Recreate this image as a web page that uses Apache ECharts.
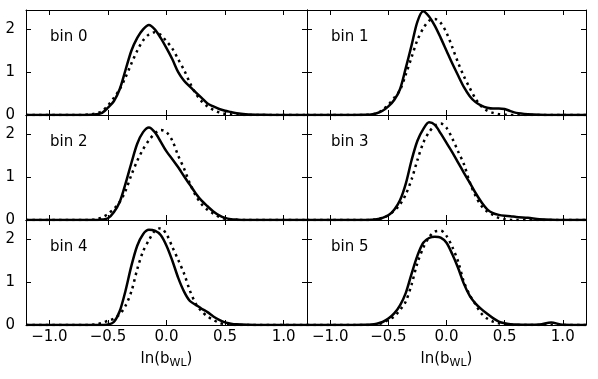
<!DOCTYPE html>
<html>
<head>
<meta charset="utf-8">
<script src="https://cdn.jsdelivr.net/npm/echarts@6/dist/echarts.min.js"></script>
<style>
    html, body { margin: 0; padding: 0; background: #fff; }
    .box { width: 598px; height: 379px; }
</style>
</head>
<body>
<div class="box"></div>
<script>
// x positions of ln(b_WL) where the curves were read
var xs = [-1.2, -0.8, -0.7, -0.65, -0.6, -0.55, -0.5, -0.45, -0.4, -0.35, -0.3, -0.25, -0.2, -0.15, -0.1, -0.05,
    0, 0.05, 0.1, 0.15, 0.2, 0.25, 0.3, 0.35, 0.4, 0.45, 0.5, 0.55, 0.6, 0.7, 0.8, 0.9, 1.0, 1.2]

// solid curves, bin 0..5
var solid0 = [0, 0, 0, 0.005, 0.015, 0.05, 0.17, 0.32, 0.6, 1.05, 1.5, 1.8, 2.0, 2.1, 2.0, 1.8, 1.56, 1.3, 1.0, 0.8, 0.66, 0.53, 0.4, 0.27, 0.2, 0.14, 0.1, 0.07, 0.04, 0.01, 0.005, 0, 0, 0]
var solid1 = [0, 0, 0.003, 0.01, 0.04, 0.1, 0.2, 0.35, 0.6, 1.1, 1.63, 2.18, 2.42, 2.3, 2.08, 1.8, 1.5, 1.2, 0.92, 0.65, 0.44, 0.3, 0.22, 0.17, 0.15, 0.15, 0.14, 0.09, 0.05, 0.02, 0.005, 0, 0, 0]
var solid2 = [0, 0, 0, 0, 0.002, 0.01, 0.04, 0.18, 0.42, 0.85, 1.33, 1.78, 2.05, 2.16, 2.05, 1.83, 1.6, 1.42, 1.23, 1.02, 0.82, 0.62, 0.45, 0.32, 0.2, 0.11, 0.05, 0.02, 0.01, 0, 0, 0, 0, 0]
var solid3 = [0, 0, 0, 0.005, 0.015, 0.05, 0.11, 0.24, 0.46, 0.85, 1.4, 1.85, 2.12, 2.28, 2.22, 2.02, 1.8, 1.58, 1.34, 1.1, 0.87, 0.63, 0.42, 0.25, 0.16, 0.12, 0.1, 0.09, 0.07, 0.05, 0.02, 0.005, 0, 0]
var solid4 = [0, 0, 0, 0, 0, 0.002, 0.01, 0.07, 0.32, 0.8, 1.38, 1.85, 2.12, 2.22, 2.2, 2.1, 1.85, 1.5, 1.1, 0.78, 0.56, 0.47, 0.38, 0.3, 0.2, 0.12, 0.06, 0.03, 0.015, 0.005, 0, 0, 0, 0]
var solid5 = [0, 0, 0.003, 0.01, 0.03, 0.07, 0.15, 0.27, 0.46, 0.75, 1.2, 1.62, 1.92, 2.03, 2.06, 2.04, 1.92, 1.65, 1.33, 0.96, 0.68, 0.5, 0.37, 0.26, 0.16, 0.08, 0.04, 0.02, 0.01, 0.005, 0.01, 0.06, 0.005, 0]

// dotted curves, bin 0..5
var dotted0 = [0, 0, 0.005, 0.015, 0.04, 0.09, 0.22, 0.4, 0.6, 0.88, 1.2, 1.5, 1.74, 1.88, 1.93, 1.87, 1.72, 1.55, 1.3, 1.05, 0.75, 0.5, 0.32, 0.2, 0.12, 0.06, 0.03, 0.015, 0.005, 0, 0, 0, 0, 0]
var dotted1 = [0, 0, 0.003, 0.01, 0.04, 0.12, 0.24, 0.4, 0.58, 0.95, 1.35, 1.75, 2.02, 2.2, 2.24, 2.15, 1.92, 1.58, 1.22, 0.9, 0.63, 0.38, 0.2, 0.1, 0.05, 0.02, 0.01, 0.003, 0, 0, 0, 0, 0, 0]
var dotted2 = [0, 0, 0, 0.005, 0.02, 0.06, 0.14, 0.26, 0.42, 0.68, 1.05, 1.38, 1.65, 1.86, 2.02, 2.1, 2.05, 1.85, 1.5, 1.2, 0.85, 0.57, 0.37, 0.24, 0.15, 0.07, 0.03, 0.01, 0.003, 0, 0, 0, 0, 0]
var dotted3 = [0, 0, 0, 0.005, 0.015, 0.05, 0.11, 0.22, 0.36, 0.6, 0.95, 1.4, 1.8, 2.05, 2.2, 2.25, 2.15, 1.9, 1.6, 1.3, 0.88, 0.56, 0.33, 0.2, 0.12, 0.05, 0.02, 0.005, 0, 0, 0, 0, 0, 0]
var dotted4 = [0, 0, 0, 0.003, 0.015, 0.05, 0.1, 0.15, 0.25, 0.45, 0.78, 1.3, 1.72, 1.98, 2.2, 2.26, 2.12, 1.82, 1.52, 1.2, 0.8, 0.5, 0.32, 0.2, 0.12, 0.05, 0.015, 0.005, 0, 0, 0, 0, 0, 0]
var dotted5 = [0, 0, 0, 0.003, 0.01, 0.05, 0.12, 0.2, 0.35, 0.55, 0.95, 1.45, 1.8, 2.05, 2.18, 2.2, 2.08, 1.82, 1.48, 1.0, 0.7, 0.48, 0.27, 0.15, 0.08, 0.04, 0.015, 0.005, 0, 0, 0, 0, 0, 0]

var binNames = ['bin 0', 'bin 1', 'bin 2', 'bin 3', 'bin 4', 'bin 5']
var xTicks = [-1.0, -0.5, 0.0, 0.5, 1.0]
var yTicks = [0, 1, 2]

var solids = [solid0, solid1, solid2, solid3, solid4, solid5]
var dotteds = [dotted0, dotted1, dotted2, dotted3, dotted4, dotted5]

var font = 'DejaVu Sans'

function pairs(ys) {
    var out = []
    for (var i = 0; i < xs.length; i++) out.push([xs[i], ys[i]])
    return out
}

function fmtX(v) {
    return (v < 0 ? '\u2212' : '') + Math.abs(v).toFixed(1)
}

function panels() {
    var myChart = echarts.init(document.querySelector('.box'), null, { renderer: 'canvas' })
    var grid = [], xAxis = [], yAxis = [], series = [], graphic = []
    var lefts = [26, 307], widths = [281, 279], tops = [10, 115, 220]

    for (var i = 0; i < 6; i++) {
        var col = i % 2, row = Math.floor(i / 2)
        grid.push({ left: lefts[col], top: tops[row], width: widths[col], height: 105 })

        var bottomRow = row === 2
        ;['bottom', 'top'].forEach(function (pos) {
            var main = pos === 'bottom'
            xAxis.push({
                type: 'value', gridIndex: i, position: pos, min: -1.2, max: 1.2,
                axisLine: { show: true, onZero: false, lineStyle: { color: '#000', width: 1 } },
                axisTick: { show: true, inside: true, length: 5, customValues: xTicks, lineStyle: { color: '#000' } },
                axisLabel: {
                    show: main && bottomRow, customValues: xTicks, formatter: fmtX,
                    color: '#000', fontSize: 15, fontFamily: font, margin: 5
                },
                splitLine: { show: false },
                name: main && bottomRow ? 'ln(b{s|WL})' : '',
                nameLocation: 'middle', nameGap: 24,
                nameTextStyle: {
                    color: '#000', fontSize: 15, fontFamily: font,
                    rich: { s: { fontSize: 11, fontFamily: font, color: '#000', padding: [9, 0, 0, 0] } }
                }
            })
        })
        ;['left', 'right'].forEach(function (pos) {
            var main = pos === 'left'
            yAxis.push({
                type: 'value', gridIndex: i, position: pos, min: 0, max: 2.45,
                axisLine: { show: true, onZero: false, lineStyle: { color: '#000', width: 1 } },
                axisTick: { show: true, inside: true, length: 5, customValues: yTicks, lineStyle: { color: '#000' } },
                axisLabel: {
                    show: main && col === 0, customValues: yTicks,
                    color: '#000', fontSize: 15, fontFamily: font, margin: 11
                },
                splitLine: { show: false }
            })
        })

        series.push({
            type: 'line', xAxisIndex: i * 2, yAxisIndex: i * 2, data: pairs(solids[i]),
            showSymbol: false, smooth: 0.3, silent: true,
            lineStyle: { color: '#000', width: 2.5 }
        })
        series.push({
            type: 'line', xAxisIndex: i * 2, yAxisIndex: i * 2, data: pairs(dotteds[i]),
            showSymbol: false, smooth: 0.3, silent: true,
            lineStyle: { color: '#000', width: 2.5, type: [2.5, 4.1] }
        })

        graphic.push({
            type: 'text', x: lefts[col] + 24, y: tops[row] + 27,
            style: { text: binNames[i], font: '15px "DejaVu Sans"', fill: '#000', verticalAlign: 'middle' }
        })
    }

    myChart.setOption({
        animation: false,
        backgroundColor: '#fff',
        grid: grid,
        xAxis: xAxis,
        yAxis: yAxis,
        series: series,
        graphic: graphic
    })
}

panels()
</script>
</body>
</html>
